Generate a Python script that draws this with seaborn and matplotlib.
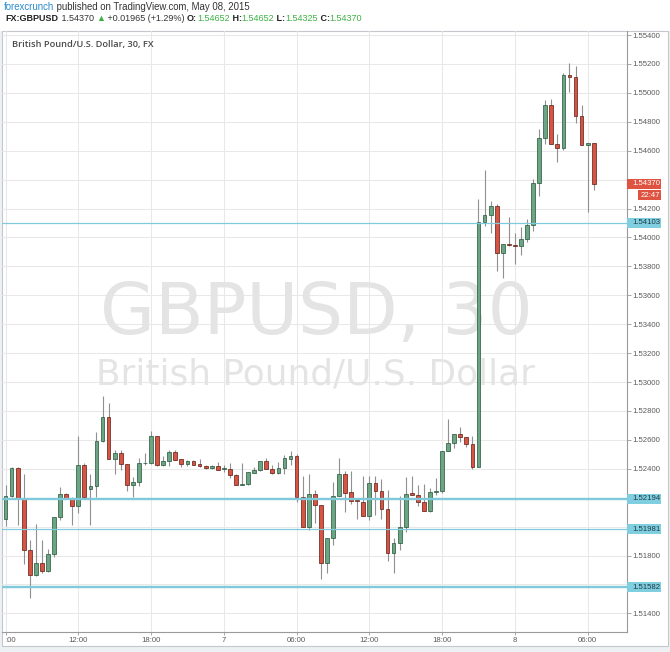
import numpy as np
import matplotlib
matplotlib.use("Agg")
import matplotlib.pyplot as plt
import seaborn as sns
from matplotlib.patches import Rectangle

# ---------------- data (GBPUSD 30-min candles, 6 May 06:00 -> 8 May 06:30) -------------
opens = [1.52055, 1.52211, 1.52405, 1.52189, 1.51837, 1.51664, 1.51745, 1.51692, 1.51809, 1.52067,
         1.52228, 1.52193, 1.52140, 1.52428, 1.52262, 1.52278, 1.52589, 1.52756, 1.52469, 1.52508,
         1.52434, 1.52285, 1.52308, 1.52439, 1.52439, 1.52625, 1.52423, 1.52453, 1.52515, 1.52469,
         1.52434, 1.52451, 1.52434, 1.52418, 1.52405, 1.52416, 1.52400, 1.52400, 1.52359, 1.52290,
         1.52292, 1.52372, 1.52389, 1.52453, 1.52400, 1.52372, 1.52405, 1.52469, 1.52487, 1.52202,
         1.51995, 1.52228, 1.52152, 1.51749, 1.51924, 1.52209, 1.52365, 1.52239, 1.52182, 1.52172,
         1.52076, 1.52303, 1.52248, 1.52124, 1.51814, 1.51890, 1.51995, 1.52230, 1.52216, 1.52170,
         1.52108, 1.52239, 1.52244, 1.52526, 1.52579, 1.52641, 1.52618, 1.52572, 1.52411, 1.54106,
         1.54152, 1.54216, 1.53894, 1.53954, 1.53945, 1.53940, 1.53986, 1.54083, 1.54377, 1.54687,
         1.54917, 1.54648, 1.54618, 1.55124, 1.55113, 1.54837, 1.54641, 1.54652]
highs = [1.52290, 1.52410, 1.52410, 1.52366, 1.51906, 1.52016, 1.51910, 1.51848, 1.52067, 1.52274,
         1.52232, 1.52205, 1.52625, 1.52441, 1.52366, 1.52653, 1.52901, 1.52853, 1.52531, 1.52531,
         1.52434, 1.52343, 1.52474, 1.52510, 1.52660, 1.52630, 1.52487, 1.52533, 1.52533, 1.52469,
         1.52464, 1.52464, 1.52469, 1.52423, 1.52423, 1.52446, 1.52423, 1.52441, 1.52365, 1.52441,
         1.52377, 1.52411, 1.52453, 1.52476, 1.52423, 1.52450, 1.52492, 1.52522, 1.52503, 1.52349,
         1.52365, 1.52250, 1.52152, 1.51924, 1.52308, 1.52476, 1.52384, 1.52384, 1.52200, 1.52349,
         1.52349, 1.52349, 1.52331, 1.52250, 1.51924, 1.52212, 1.52342, 1.52347, 1.52285, 1.52292,
         1.52267, 1.52336, 1.52526, 1.52745, 1.52641, 1.52687, 1.52618, 1.52630, 1.54267, 1.54469,
         1.54251, 1.54228, 1.53956, 1.54140, 1.54032, 1.54074, 1.54131, 1.54405, 1.54750, 1.54952,
         1.54959, 1.54717, 1.55140, 1.55205, 1.55186, 1.54917, 1.54652, 1.54652]
lows = [1.52002, 1.52205, 1.52009, 1.51738, 1.51503, 1.51660, 1.51680, 1.51688, 1.51791, 1.52044,
        1.52189, 1.52009, 1.52097, 1.52200, 1.52009, 1.52205, 1.52584, 1.52469, 1.52366, 1.52389,
        1.52244, 1.52205, 1.52280, 1.52428, 1.52434, 1.52418, 1.52418, 1.52418, 1.52464, 1.52409,
        1.52418, 1.52423, 1.52409, 1.52400, 1.52400, 1.52389, 1.52377, 1.52336, 1.52285, 1.52288,
        1.52290, 1.52370, 1.52387, 1.52395, 1.52365, 1.52365, 1.52365, 1.52423, 1.52170, 1.51995,
        1.51975, 1.52028, 1.51637, 1.51676, 1.51871, 1.52209, 1.52101, 1.52159, 1.52050, 1.52074,
        1.52044, 1.52078, 1.52055, 1.51761, 1.51676, 1.51837, 1.51963, 1.52216, 1.52143, 1.52108,
        1.52101, 1.52221, 1.52234, 1.52526, 1.52543, 1.52584, 1.52549, 1.52400, 1.52411, 1.54078,
        1.54032, 1.53768, 1.53722, 1.53940, 1.53814, 1.53876, 1.53968, 1.54044, 1.54285, 1.54646,
        1.54648, 1.54520, 1.54607, 1.55009, 1.54795, 1.54641, 1.54175, 1.54325]
closes = [1.52211, 1.52405, 1.52189, 1.51837, 1.51664, 1.51745, 1.51692, 1.51809, 1.52067, 1.52228,
          1.52193, 1.52140, 1.52428, 1.52202, 1.52280, 1.52589, 1.52756, 1.52469, 1.52508, 1.52434,
          1.52285, 1.52308, 1.52439, 1.52441, 1.52625, 1.52423, 1.52453, 1.52515, 1.52464, 1.52434,
          1.52451, 1.52428, 1.52416, 1.52405, 1.52418, 1.52393, 1.52405, 1.52359, 1.52290, 1.52294,
          1.52377, 1.52393, 1.52453, 1.52400, 1.52372, 1.52405, 1.52474, 1.52487, 1.52202, 1.51995,
          1.52228, 1.52152, 1.51749, 1.51924, 1.52209, 1.52365, 1.52234, 1.52177, 1.52175, 1.52076,
          1.52303, 1.52248, 1.52120, 1.51814, 1.51890, 1.51995, 1.52228, 1.52216, 1.52170, 1.52108,
          1.52239, 1.52246, 1.52526, 1.52579, 1.52641, 1.52618, 1.52572, 1.52411, 1.54106, 1.54152,
          1.54216, 1.53894, 1.53956, 1.53945, 1.53940, 1.53986, 1.54083, 1.54377, 1.54687, 1.54917,
          1.54648, 1.54618, 1.55124, 1.55108, 1.54837, 1.54641, 1.54652, 1.54370]

time_tick_idx = [0, 12, 24, 36, 48, 60, 72, 84, 96]
time_tick_labels = [":00", "12:00", "18:00", "7", "06:00", "12:00", "18:00", "8", "06:00"]
price_ticks = [1.51400, 1.51600, 1.51800, 1.52000, 1.52200, 1.52400, 1.52600, 1.52800, 1.53000,
               1.53200, 1.53400, 1.53600, 1.53800, 1.54000, 1.54200, 1.54400, 1.54600, 1.54800,
               1.55000, 1.55200, 1.55400]
# labels hidden behind the price boxes are left blank
price_tick_labels = ["1.51400", "", "1.51800", "", "", "1.52400", "1.52600", "1.52800", "1.53000",
                     "1.53200", "1.53400", "1.53600", "1.53800", "1.54000", "1.54200", "",
                     "1.54600", "1.54800", "1.55000", "1.55200", "1.55400"]
level_values = [1.54103, 1.52194, 1.51981, 1.51582]
level_thick = [False, True, False, True]
last_price = 1.54370
countdown = "22:47"

title_main = "GBPUSD, 30"
title_sub = "British Pound/U.S. Dollar"
symbol_desc = "British Pound/U.S. Dollar, 30, FX"

# ---------------- style ----------------
sns.set_theme(style="white")
plt.rcParams['font.family'] = ['Liberation Sans', 'DejaVu Sans']

W, H = 670, 652
fig = plt.figure(figsize=(W / 100, H / 100), dpi=100, facecolor='#eef1f4')

def px_rect(x0, y0, x1, y1, **kw):
    r = Rectangle((x0 / W, 1 - y1 / H), (x1 - x0) / W, (y1 - y0) / H,
                  transform=fig.transFigure, **kw)
    fig.add_artist(r)
    return r

# header white band and white chart panel
px_rect(0, 0, W, 31, facecolor='white', edgecolor='none', zorder=-2)
px_rect(1.5, 31, 668, 646, facecolor='white', edgecolor='#c4c8cc', lw=0.8, zorder=-1)

L, R, T, B = 2, 627, 31, 632
ax = fig.add_axes([L / W, 1 - B / H, (R - L) / W, (B - T) / H])
ax.set_facecolor('none')

x = np.arange(len(opens))
o = np.array(opens); h = np.array(highs); lo = np.array(lows); c = np.array(closes)
up = c >= o
bottom = np.minimum(o, c)
height = np.maximum(np.abs(c - o), 1e-6)

ax.vlines(x, lo, h, color='#909090', lw=0.8, zorder=3)
ax.bar(x[up], height[up], bottom=bottom[up], width=0.62, color='#6ba583',
       edgecolor='#225437', lw=0.5, zorder=4)
ax.bar(x[~up], height[~up], bottom=bottom[~up], width=0.62, color='#d75442',
       edgecolor='#5b1a13', lw=0.5, zorder=4)

for v, thick in zip(level_values, level_thick):
    ax.axhline(v, color='#80c9db', lw=1.7 if thick else 0.9, zorder=5)

ax.set_xlim(-0.58, 102.49)
ax.set_ylim(1.51271, 1.55428)

ax.yaxis.tick_right()
ax.set_yticks(price_ticks, price_tick_labels)
ax.set_xticks(time_tick_idx, time_tick_labels)
ax.get_xticklabels()[0].set_horizontalalignment('left')
ax.tick_params(axis='y', which='both', right=True, left=False, length=2.6, width=0.6,
               color='#9a9a9a', pad=1.2, labelsize=5.6, labelcolor='#5a5a5a')
ax.tick_params(axis='x', which='both', bottom=True, length=2.4, width=0.6,
               color='#9a9a9a', pad=1.5, labelsize=5.6, labelcolor='#5a5a5a')
ax.grid(True, color='#e8e8e8', lw=0.75, zorder=0)
ax.set_axisbelow(True)
for s in ['left', 'top']:
    ax.spines[s].set_visible(False)
for s in ['right', 'bottom']:
    ax.spines[s].set_color('#9a9a9a')
    ax.spines[s].set_linewidth(0.8)

renderer = fig.canvas.get_renderer()

def fpx(xp, yp):
    return xp / W, 1 - yp / H

# watermark
wm1 = fig.text(*fpx(316, 333.5), title_main, fontsize=10, family='DejaVu Sans',
               color='#e4e4e4', ha='center', va='baseline')
wm1.set_fontsize(10 * 432 / wm1.get_window_extent(renderer).width)
wm2 = fig.text(*fpx(316, 385), title_sub, fontsize=10, family='DejaVu Sans',
               color='#e4e4e4', ha='center', va='baseline')
wm2.set_fontsize(10 * 438 / wm2.get_window_extent(renderer).width)
for t in (wm1, wm2):
    t.remove()
    ax.add_artist(t)
    t.set_transform(fig.transFigure)
    t.set_zorder(1)

lbl = fig.text(*fpx(11.7, 46.8), symbol_desc, fontsize=10, family='Open Sans',
               fontweight='semibold', color='#4a4a4a', ha='left', va='baseline')
lbl.set_fontsize(10 * 142 / lbl.get_window_extent(renderer).width)

# header runs
def draw_runs(runs, x0, ybase, size, family=('Liberation Sans', 'DejaVu Sans')):
    xp = x0
    for s, col, wt in runs:
        t = fig.text(*fpx(xp, ybase), s, fontsize=size, color=col, fontweight=wt,
                     family=list(family), ha='left', va='baseline')
        xp += t.get_window_extent(renderer).width
    return xp

def runs_width(runs, size, family=('Liberation Sans', 'DejaVu Sans')):
    total = 0
    for s, col, wt in runs:
        t = fig.text(0, 0, s, fontsize=size, fontweight=wt, family=list(family))
        total += t.get_window_extent(renderer).width
        t.remove()
    return total

line1 = [("forexcrunch", '#2a8acb', 'normal'),
         (" published on TradingView.com, May 08, 2015", '#333333', 'normal')]
size1 = 10 * 247 / runs_width(line1, 10)
draw_runs(line1, 3.5, 9.6, size1)

green = '#3cb043'
line2 = [("FX:GBPUSD", '#222222', 'bold'), (" 1.54370 ", '#333333', 'normal'),
         ("\u25B2", green, 'normal'), (" +0.01965 (+1.29%) ", '#333333', 'normal'),
         ("O:", '#222222', 'bold'), ("1.54652", green, 'normal'),
         (" H:", '#222222', 'bold'), ("1.54652", green, 'normal'),
         (" L:", '#222222', 'bold'), ("1.54325", green, 'normal'),
         (" C:", '#222222', 'bold'), ("1.54370", green, 'normal')]
size2 = 10 * 355 / runs_width(line2, 10)
draw_runs(line2, 5.7, 20.8, size2)

# price-axis label boxes
def ypx(v):
    return H - ax.transData.transform((0, v))[1]

for v in level_values:
    yc = ypx(v)
    px_rect(627, yc - 5, 661, yc + 5, facecolor='#7fcfe0', edgecolor='none', zorder=5)
    fig.text(*fpx(632, yc), "%.5f" % v, fontsize=5.6, color='#1f3a44',
             ha='left', va='center', zorder=6)

yc = ypx(last_price)
px_rect(627, yc - 5, 661, yc + 5, facecolor='#df5340', edgecolor='none', zorder=5)
fig.text(*fpx(632, yc), "%.5f" % last_price, fontsize=5.6, color='white',
         ha='left', va='center', zorder=6)
px_rect(638, yc + 6, 661, yc + 16.5, facecolor='#df5340', edgecolor='none', zorder=5)
fig.text(*fpx(641, yc + 11.2), countdown, fontsize=5.6, color='white',
         ha='left', va='center', zorder=6)

fig.savefig("out.png", dpi=100, facecolor=fig.get_facecolor())
